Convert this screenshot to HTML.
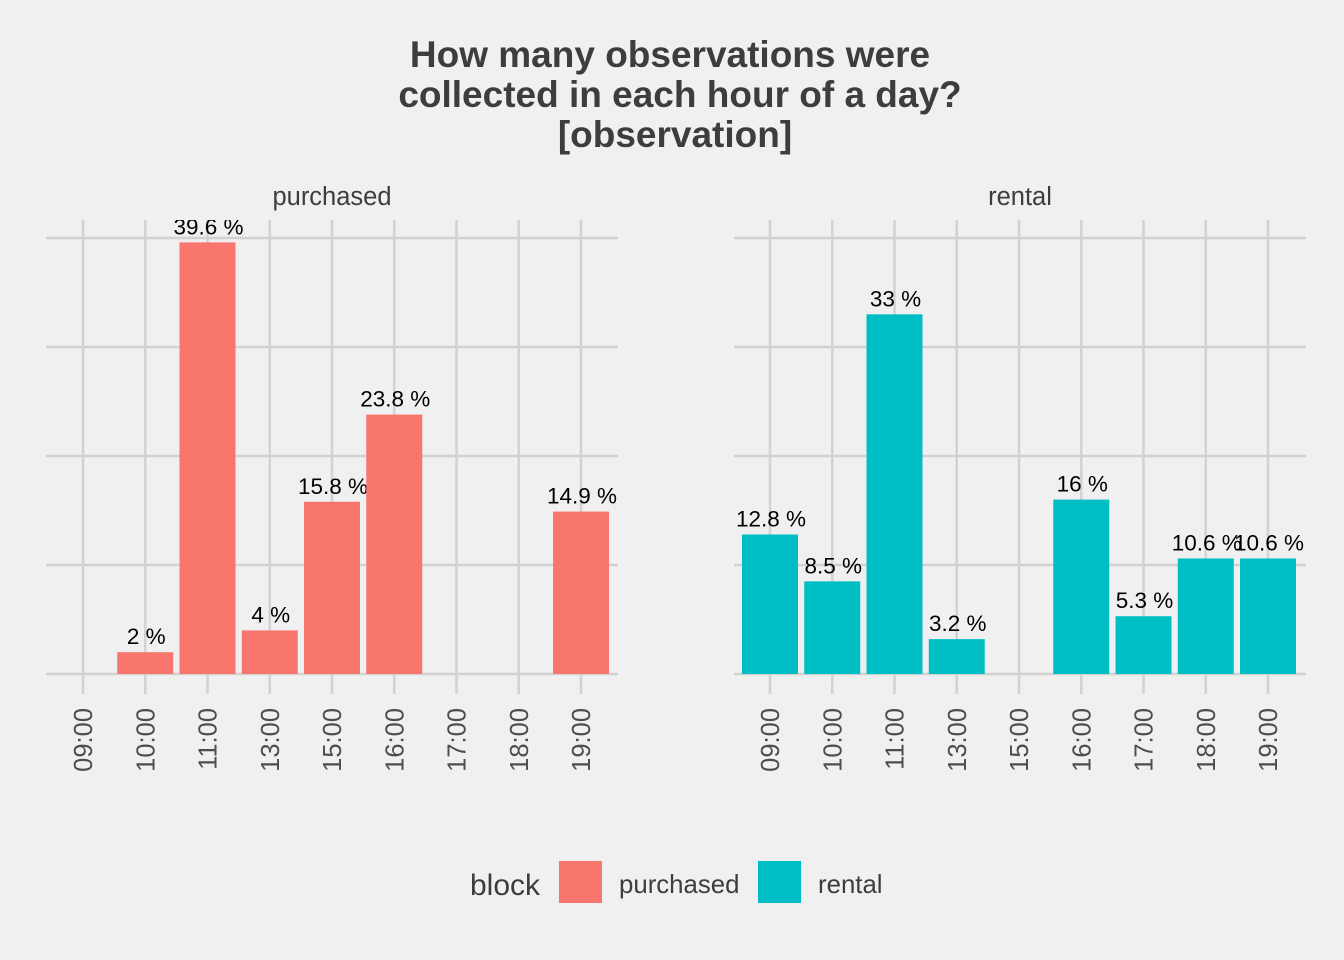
<!DOCTYPE html>
<html><head><meta charset="utf-8"><style>
html,body{margin:0;padding:0;background:#f0f0f0;}
svg{display:block;font-family:"Liberation Sans",Arial,sans-serif;}
</style></head><body>
<svg id="chart" width="1344" height="960" viewBox="0 0 1344 960">
<rect width="1344" height="960" fill="#f0f0f0"/>
<g font-weight="bold" font-size="37" fill="#3d3d3d" text-anchor="middle">
<text x="670" y="67">How many observations were</text>
<text x="680" y="107">collected in each hour of a day?</text>
<text x="675" y="147">[observation]</text>
</g>
<g id="panels"></g>
<g>
<text x="470" y="895" font-size="30" fill="#3d3d3d">block</text>
<rect x="559" y="861" width="43" height="42" fill="#F8766D"/>
<text x="619" y="893" font-size="25.8" fill="#3d3d3d">purchased</text>
<rect x="758" y="861" width="43" height="42" fill="#00BFC4"/>
<text x="818" y="893" font-size="25.8" fill="#3d3d3d">rental</text>
</g>
</svg>
<script>
const categories = ["09:00","10:00","11:00","13:00","15:00","16:00","17:00","18:00","19:00"];
const purchasedValues = [null, 2, 39.6, 4, 15.8, 23.8, null, null, 14.9];
const purchasedLabels = ["", "2 %", "39.6 %", "4 %", "15.8 %", "23.8 %", "", "", "14.9 %"];
const rentalValues = [12.8, 8.5, 33, 3.2, null, 16, 5.3, 10.6, 10.6];
const rentalLabels = ["12.8 %", "8.5 %", "33 %", "3.2 %", "", "16 %", "5.3 %", "10.6 %", "10.6 %"];
const yTicks = [0, 10, 20, 30, 40];

const NS = "http://www.w3.org/2000/svg";
const root = document.getElementById("panels");
function mk(tag, attrs, parent) {
  const e = document.createElementNS(NS, tag);
  for (const k in attrs) e.setAttribute(k, attrs[k]);
  parent.appendChild(e);
  return e;
}
const baseY = 674, pxPer = 10.9, panelTop = 220;
function yScale(v) { return baseY - v * pxPer; }

function panel(name, x0, x1, firstX, values, labels, color) {
  const step = 62.25;
  function xScale(i) { return firstX + i * step; }
  const g = mk("g", {}, root);
  
  
  const clipId = "clip-" + name;
  const cp = mk("clipPath", { id: clipId }, g);
  mk("rect", { x: x0, y: panelTop, width: x1 - x0, height: 480 }, cp);
  const strip = mk("text", { x: (x0 + x1) / 2, y: 205, "font-size": 25.5, fill: "#3d3d3d", "text-anchor": "middle" }, g);
  strip.textContent = name;
  
  
  const grid = mk("g", { stroke: "#d2d2d2", "stroke-width": 2.5 }, g);
  
  
  yTicks.forEach(t => { mk("line", { x1: x0, x2: x1, y1: yScale(t), y2: yScale(t) }, grid); });
  categories.forEach((c, i) => { mk("line", { x1: xScale(i), x2: xScale(i), y1: panelTop, y2: 694 }, grid); });
  const bars = mk("g", { "clip-path": "url(#" + clipId + ")" }, g);
  values.forEach((v, i) => {
    if (v == null) return;
    const r = mk("rect", { x: xScale(i) - 28, y: yScale(v), width: 56, height: v * pxPer, fill: color }, bars);
    
    
    const t = mk("text", { x: xScale(i) + 1, y: yScale(v) - 8, "font-size": 22.5, fill: "#000", "text-anchor": "middle" }, bars);
    t.textContent = labels[i];
    
    
  });
  categories.forEach((c, i) => {
    const t = mk("text", { x: 0, y: 0, "font-size": 25.5, fill: "#4d4d4d", "text-anchor": "end",
      transform: "translate(" + (xScale(i) + 9) + ",708) rotate(-90)" }, g);
    t.textContent = c;
    
    
  });
}
panel("purchased", 46, 618, 83, purchasedValues, purchasedLabels, "#F8766D");
panel("rental", 734, 1306, 770, rentalValues, rentalLabels, "#00BFC4");
</script>
</body></html>
